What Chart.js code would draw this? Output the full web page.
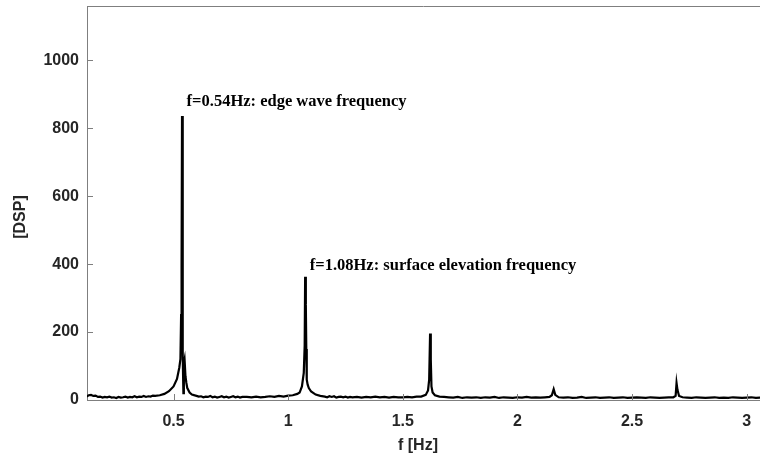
<!DOCTYPE html>
<html>
<head>
<meta charset="utf-8">
<script src="https://cdn.jsdelivr.net/npm/chart.js@4.4.1/dist/chart.umd.min.js"></script>
<style>
  html, body { margin: 0; padding: 0; background: #fff; overflow: hidden; }
</style>
</head>
<body>
<canvas id="chart" width="760" height="457"></canvas>
<script>
// spectrum (frequency in Hz, DSP value)
const freq = [
  0.12, 0.13, 0.14, 0.15, 0.16, 0.17, 0.18, 0.19, 0.20, 0.21, 0.22, 0.23, 0.24, 0.25, 0.26, 0.27, 0.28, 0.29,
  0.30, 0.31, 0.32, 0.33, 0.34, 0.35, 0.36, 0.37, 0.38, 0.39, 0.40, 0.41,
  0.42, 0.44, 0.46, 0.48, 0.50, 0.515, 0.525, 0.53, 0.533, 0.535, 0.537, 0.539, 0.541, 0.543, 0.545, 0.548,
  0.552, 0.556, 0.56, 0.57, 0.58, 0.60, 0.61, 0.62, 0.63, 0.64, 0.65, 0.66, 0.67, 0.68, 0.69, 0.70, 0.71, 0.72,
  0.73, 0.74, 0.75, 0.76, 0.77, 0.78, 0.79, 0.80,
  0.82, 0.84, 0.86, 0.88, 0.90, 0.92, 0.94, 0.96, 0.98, 1.00, 1.02, 1.04, 1.05, 1.06, 1.068, 1.072,
  1.074, 1.077, 1.079, 1.081, 1.085, 1.09, 1.10, 1.12, 1.14, 1.16, 1.17, 1.18, 1.19, 1.20, 1.21, 1.22, 1.23,
  1.24, 1.25, 1.26, 1.27, 1.28,
  1.30, 1.32, 1.34, 1.36, 1.38, 1.40, 1.42, 1.44, 1.46, 1.48, 1.50, 1.52, 1.54, 1.56, 1.58, 1.60,
  1.61, 1.615, 1.619, 1.622, 1.625, 1.63, 1.64, 1.66, 1.68, 1.70, 1.72, 1.74, 1.76, 1.78, 1.80, 1.82,
  1.84, 1.86, 1.88, 1.90, 1.92, 1.94, 1.96, 1.98, 2.00, 2.02, 2.04, 2.06, 2.08, 2.10, 2.12, 2.14,
  2.15, 2.158, 2.165, 2.18, 2.20, 2.22, 2.24, 2.26, 2.28, 2.30, 2.32, 2.34, 2.36, 2.38, 2.40, 2.42,
  2.44, 2.46, 2.48, 2.50, 2.52, 2.54, 2.56, 2.58, 2.60, 2.62, 2.64, 2.66, 2.68, 2.69, 2.694, 2.698,
  2.705, 2.72, 2.74, 2.76, 2.78, 2.80, 2.82, 2.84, 2.86, 2.88, 2.90, 2.92, 2.94, 2.96, 2.98, 3.00,
  3.02, 3.04, 3.06
];
const dsp = [
  10, 14, 15, 12, 13, 9, 10, 7, 9, 8, 10, 7, 8, 6, 9, 7, 8, 10,
  7, 9, 8, 11, 8, 10, 9, 12, 9, 11, 10, 13,
  12, 14, 18, 26, 40, 62, 95, 120, 250, 390, 836, 380, 130, 20, 110, 120,
  70, 50, 35, 22, 16, 12, 10, 11, 8, 10, 9, 12, 8, 10, 7, 9, 11, 8,
  10, 7, 9, 11, 8, 10, 7, 9,
  9, 8, 10, 8, 9, 11, 9, 12, 10, 13, 14, 18, 22, 40, 80, 160,
  363, 280, 150, 60, 45, 35, 25, 16, 12, 10, 8, 11, 9, 11, 7, 9, 10,
  8, 10, 7, 9, 8,
  9, 7, 9, 8, 10, 8, 9, 7, 9, 8, 8, 9, 8, 10, 10, 15,
  28, 60, 196, 120, 40, 22, 14, 10, 9, 8, 7, 9, 6, 8, 7, 8,
  6, 8, 7, 9, 6, 8, 7, 6, 8, 7, 9, 7, 8, 7, 8, 9,
  14, 32, 15, 8, 7, 8, 6, 7, 9, 6, 7, 8, 6, 7, 8, 6,
  7, 8, 6, 7, 8, 7, 6, 8, 7, 6, 7, 8, 8, 12, 50, 30,
  12, 8, 7, 6, 8, 7, 6, 7, 8, 6, 7, 6, 8, 7, 6, 7,
  8, 6, 7
];

const xTicks = [0.5, 1, 1.5, 2, 2.5, 3];
const yTicks = [0, 200, 400, 600, 800, 1000];

const xTitle = 'f [Hz]';
const yTitle = '[DSP]';

const noteText = ['f=0.54Hz: edge wave frequency', 'f=1.08Hz: surface elevation frequency'];
const noteX = [0.557, 1.094];
const noteY = [877, 396];

const points = freq.map((f, i) => ({ x: f, y: dsp[i] }));

const axisColor = '#7f7f7f';
const labelColor = '#262626';
const tickFont = { family: '"Liberation Sans", Arial, sans-serif', size: 16, weight: 'bold' };

// box top line, inward ticks, axis titles, text notes
const extras = {
  id: 'extras',
  afterDraw(chart) {
    const { ctx, chartArea } = chart;
    const xs = chart.scales.x, ys = chart.scales.y;
    ctx.save();
    ctx.strokeStyle = axisColor;
    ctx.lineWidth = 1;
    ctx.beginPath();
    ctx.moveTo(chartArea.left, chartArea.top + 0.5);
    ctx.lineTo(chartArea.right, chartArea.top + 0.5);
    xTicks.forEach(v => {
      const px = Math.round(xs.getPixelForValue(v)) + 0.5;
      ctx.moveTo(px, chartArea.bottom);
      ctx.lineTo(px, chartArea.bottom - 6);
    });
    yTicks.forEach(v => {
      const py = Math.round(ys.getPixelForValue(v)) + 0.5;
      ctx.moveTo(chartArea.left, py);
      ctx.lineTo(chartArea.left + 6, py);
    });
    ctx.stroke();

    // axis titles
    ctx.fillStyle = labelColor;
    ctx.font = 'bold 16px "Liberation Sans", Arial, sans-serif';
    ctx.textAlign = 'center';
    ctx.textBaseline = 'middle';
    ctx.fillText(xTitle, 418, 446);
    ctx.save();
    ctx.translate(21, 217);
    ctx.rotate(-Math.PI / 2);
    ctx.fillText(yTitle, 0, 0);
    ctx.restore();

    ctx.fillStyle = '#000';
    ctx.font = 'bold 16.5px "Liberation Serif", "Times New Roman", serif';
    ctx.textAlign = 'left';
    noteText.forEach((t, i) => {
      ctx.fillText(t, xs.getPixelForValue(noteX[i]), ys.getPixelForValue(noteY[i]));
    });
    ctx.restore();
  }
};

new Chart(document.getElementById('chart').getContext('2d'), {
  type: 'line',
  data: {
    datasets: [{
      data: points,
      borderColor: '#000',
      borderWidth: 2.2,
      pointRadius: 0,
      tension: 0,
      fill: false
    }]
  },
  options: {
    responsive: false,
    animation: false,
    devicePixelRatio: 1,
    layout: { padding: { top: 6, right: 0, left: 0, bottom: 0 } },
    plugins: { legend: { display: false }, tooltip: { enabled: false } },
    scales: {
      x: {
        type: 'linear',
        min: 0.1225,
        max: 3.058,
        grid: { display: false, drawTicks: false },
        border: { display: true, color: axisColor, width: 1 },
        afterBuildTicks: s => { s.ticks = xTicks.map(v => ({ value: v })); },
        afterFit: s => { s.height = 57; s.paddingLeft = 0; s.paddingRight = 0; },
        ticks: { color: labelColor, font: tickFont, padding: 12, maxRotation: 0,
                 callback: v => String(v) }
      },
      y: {
        min: 0,
        max: 1160,
        grid: { display: false, drawTicks: false },
        border: { display: true, color: axisColor, width: 1 },
        afterBuildTicks: s => { s.ticks = yTicks.map(v => ({ value: v })); },
        afterFit: s => { s.width = 87; s.paddingTop = 0; s.paddingBottom = 0; },
        ticks: { color: labelColor, font: tickFont, padding: 8, callback: v => String(v) }
      }
    }
  },
  plugins: [extras]
});
</script>
</body>
</html>
